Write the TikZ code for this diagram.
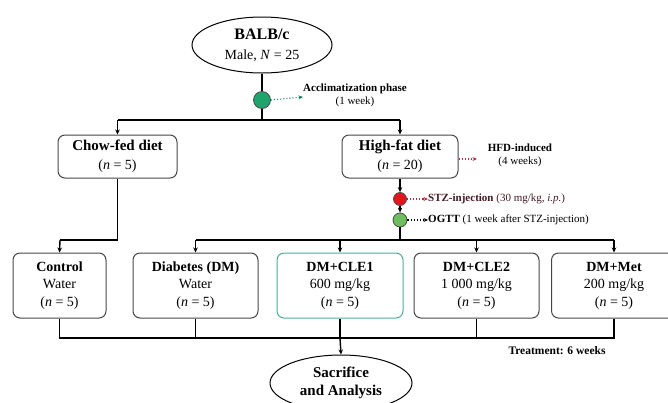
\documentclass[tikz,border=0pt]{standalone}
\usepackage{fontspec}
\setmainfont{Liberation Serif}
\usetikzlibrary{shapes.geometric,arrows.meta}
\definecolor{accgreen}{RGB}{30,165,110}
\definecolor{stzred}{RGB}{232,20,28}
\definecolor{ogttgreen}{RGB}{110,190,95}
\definecolor{teal1}{RGB}{70,175,160}
\definecolor{boxgray}{RGB}{70,70,70}
\definecolor{hfdred}{RGB}{190,40,70}
\definecolor{stztext}{RGB}{70,25,35}
\tikzset{
  conn/.style={line width=1.4pt, black},
  tip/.style={-{Stealth[length=5pt,width=4.5pt]}},
  rbox/.style={draw=boxgray, line width=1pt, rounded corners=7pt, align=center, inner sep=0pt},
  oval/.style={ellipse, draw=black, line width=1pt, align=center, inner sep=0pt},
  dot/.style={circle, draw=black!70, line width=0.8pt, inner sep=0pt},
  note/.style={align=center, inner sep=0pt, font=\fontsize{11}{13}\selectfont},
  dotarrow/.style={dotted, line width=1.1pt, -{Stealth[length=4.5pt,width=4pt]}}
}
\begin{document}
\begin{tikzpicture}[x=1pt,y=-1pt]
\useasboundingbox (0,0) rectangle (668,402);
\clip (0,0) rectangle (668,402);
% top ellipse
\node[oval, minimum width=140, minimum height=56, font=\fontsize{14}{20}\selectfont] (balb) at (262,45)
  {{\fontsize{16}{20}\selectfont\textbf{BALB/c}}\\Male, \textit{N} = 25};
\node[dot, fill=accgreen, minimum size=17] (c1) at (262,100) {};
\node[note] (acc) at (355,95) {\textbf{Acclimatization phase}\\(1 week)};
\coordinate (j1) at (262,120);
% diets
\node[rbox, minimum width=119, minimum height=43, font=\fontsize{14}{19}\selectfont] (chow) at (117.5,156.5)
  {{\fontsize{15}{19}\selectfont\textbf{Chow-fed diet}}\\(\textit{n} = 5)};
\node[rbox, minimum width=116, minimum height=43, font=\fontsize{14}{19}\selectfont] (hfd) at (400,156.5)
  {{\fontsize{15}{19}\selectfont\textbf{High-fat diet}}\\(\textit{n} = 20)};
\node[note] (hfdtxt) at (520,155) {\textbf{HFD-induced}\\(4 weeks)};
\node[dot, fill=stzred, minimum size=13] (red) at (400,199) {};
\node[dot, fill=ogttgreen, minimum size=14] (grn) at (400,220) {};
\node[note, anchor=west, text=stztext] (stz) at (428,199) {\textbf{STZ-injection} (30 mg/kg, \textit{i.p.})};
\node[note, anchor=west] (ogtt) at (428,220) {\textbf{OGTT} (1 week after STZ-injection)};
\coordinate (j2) at (400,240);
\coordinate (k) at (60,240);
% groups
\tikzset{grp/.style={rbox, minimum height=65, font=\fontsize{14}{17.5}\selectfont}}
\node[grp, minimum width=93] (ctrl) at (59.5,285.5) {\textbf{Control}\\Water\\(\textit{n} = 5)};
\node[grp, minimum width=125] (dm) at (195.5,285.5) {\textbf{Diabetes (DM)}\\Water\\(\textit{n} = 5)};
\node[grp, minimum width=126, draw=teal1] (cle1) at (340,285.5) {\textbf{DM+CLE1}\\600 mg/kg\\(\textit{n} = 5)};
\node[grp, minimum width=125] (cle2) at (476.5,285.5) {\textbf{DM+CLE2}\\1 000 mg/kg\\(\textit{n} = 5)};
\node[grp, minimum width=125] (met) at (614,285.5) {\textbf{DM+Met}\\200 mg/kg\\(\textit{n} = 5)};
\coordinate (bl) at (340,338);
\node[oval, minimum width=142, minimum height=56, font=\fontsize{15}{18}\selectfont] (sac) at (341,383)
  {\textbf{Sacrifice}\\\textbf{and Analysis}};
\node[note, font=\fontsize{11.5}{13}\selectfont] (treat) at (557,351) {\textbf{Treatment: 6 weeks}};
% connectors
\draw[conn] (balb.south) -- (c1.north);
\draw[conn] (c1.south) -- (j1);
\draw[conn] (chow.north |- j1) -- (hfd.north |- j1);
\draw[conn, tip] (chow.north |- j1) -- (chow.north);
\draw[conn, tip] (hfd.north |- j1) -- (hfd.north);
\draw[dotarrow, draw=accgreen!80!black] (c1.east) -- (acc.west |- 0,97);
\draw[dotarrow, draw=hfdred] (hfd.east |- 0,159) -- (477,159);
\draw[dotarrow, draw=hfdred] (red.east) -- (stz.west);
\draw[dotarrow, draw=black] (grn.east) -- (ogtt.west);
\draw[conn, tip] (hfd.south) -- (red.north);
\draw[conn, tip] (red.south) -- (grn.north);
\draw[conn] (grn.south) -- (j2);
\draw[conn] (chow.south) -- (chow.south |- k) -- (k);
\draw[conn, tip] (k) -- (ctrl.north);
\draw[conn] (dm.north |- j2) -- (met.north |- j2);
\foreach \g in {dm,cle1,cle2,met} \draw[conn, tip] (\g.north |- j2) -- (\g.north);
\draw[conn] (ctrl.south) -- (ctrl.south |- bl) -- (met.south |- bl) -- (met.south);
\foreach \g in {dm,cle1,cle2} \draw[conn] (\g.south) -- (\g.south |- bl);
\draw[conn, tip] (bl) -- (sac.north);
\end{tikzpicture}
\end{document}
